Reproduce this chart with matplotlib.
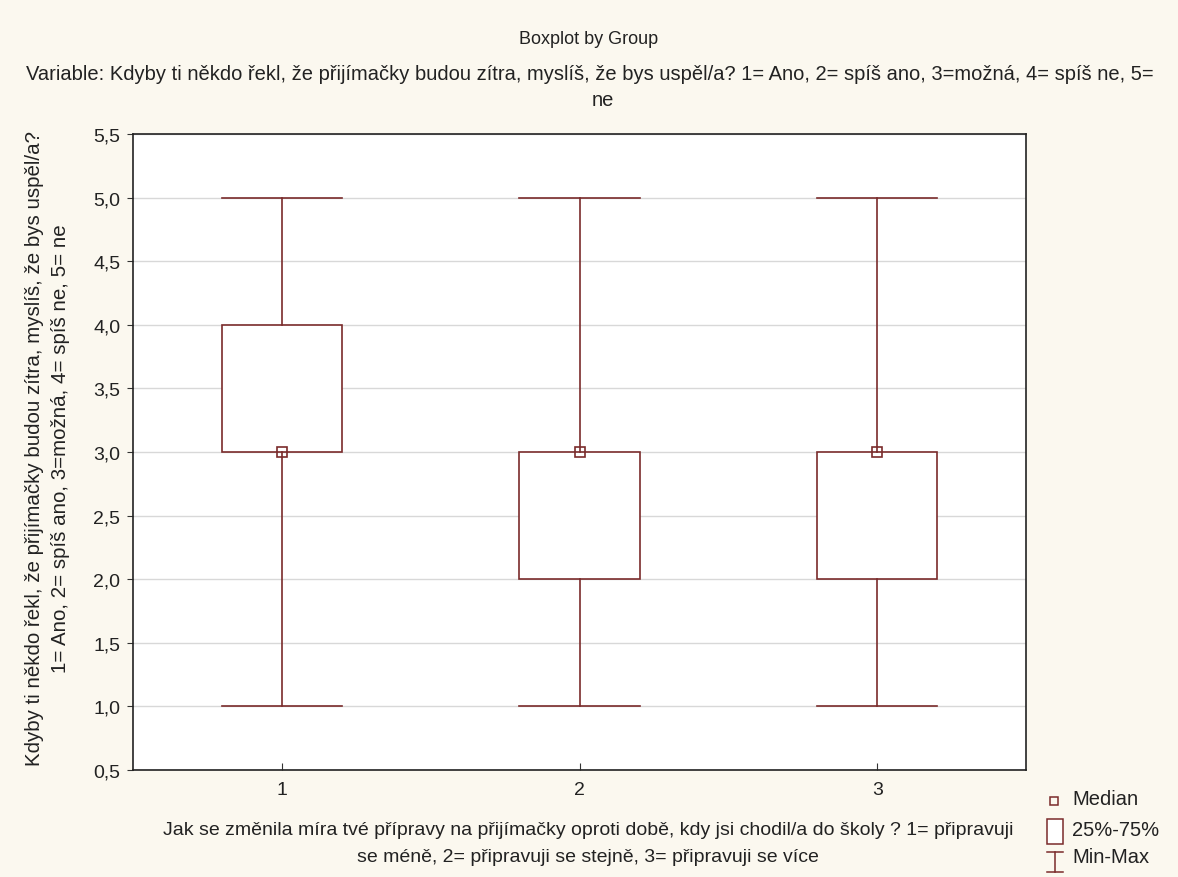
import numpy as np
import matplotlib.pyplot as plt
from matplotlib.lines import Line2D
from matplotlib.patches import Rectangle

plt.rcParams['font.family'] = ['Liberation Sans', 'DejaVu Sans']

# Summary values
groups = ['1', '2', '3']
medians = [3.0, 3.0, 3.0]
q1 = [3.0, 2.0, 2.0]
q3 = [4.0, 3.0, 3.0]
mins = [1.0, 1.0, 1.0]
maxs = [5.0, 5.0, 5.0]
yticks = [0.5, 1.0, 1.5, 2.0, 2.5, 3.0, 3.5, 4.0, 4.5, 5.0, 5.5]

box_color = '#7a2b2b'
bg_color = '#fbf8ef'
txt = '#222222'

fig = plt.figure(figsize=(11.78, 8.78), dpi=100, facecolor=bg_color)
ax = fig.add_axes([133 / 1178, 1 - 771 / 878, 893 / 1178, 636 / 878])
ax.set_facecolor('white')

stats = []
for i in range(len(groups)):
    stats.append({'med': medians[i], 'q1': q1[i], 'q3': q3[i],
                  'whislo': mins[i], 'whishi': maxs[i], 'fliers': []})

pos = np.arange(1, len(groups) + 1)
ax.bxp(stats, positions=pos, widths=0.405, capwidths=0.405, patch_artist=True,
       showfliers=False,
       boxprops=dict(facecolor='white', edgecolor=box_color, linewidth=1.2),
       whiskerprops=dict(color=box_color, linewidth=1.2),
       capprops=dict(color=box_color, linewidth=1.2),
       medianprops=dict(linewidth=0), zorder=3)
ax.plot(pos, medians, linestyle='none', marker='s', markersize=7,
        markerfacecolor='none', markeredgecolor=box_color, markeredgewidth=1.2, zorder=4)

ax.set_xlim(0.5, 3.5)
ax.set_ylim(0.5, 5.5)
ax.set_xticks(pos)
ax.set_xticklabels(groups)
ax.set_yticks(yticks)
ax.set_yticklabels([f'{v:.1f}'.replace('.', ',') for v in yticks])
ax.tick_params(axis='both', labelsize=14, colors='#333333', labelcolor=txt)
ax.tick_params(axis='x', direction='in', length=5, pad=8)
ax.tick_params(axis='y', direction='out', length=4, pad=5)
ax.yaxis.grid(True, color='#d8d8d8', linewidth=1, zorder=0)
ax.set_axisbelow(True)
for s in ax.spines.values():
    s.set_color(txt)
    s.set_linewidth(1.2)

fig.text(589 / 1178, 1 - 40 / 878, 'Boxplot by Group', ha='center', va='center', fontsize=13, color=txt)
fig.text(590 / 1178, 1 - 75 / 878,
         'Variable: Kdyby ti někdo řekl, že přijímačky budou zítra, myslíš, že bys uspěl/a? 1= Ano, 2= spíš ano, 3=možná, 4= spíš ne, 5=',
         ha='center', va='center', fontsize=14.5, color=txt)
fig.text(603 / 1178, 1 - 101 / 878, 'ne', ha='center', va='center', fontsize=14.5, color=txt)

fig.text(35 / 1178, 1 - 449 / 878,
         'Kdyby ti někdo řekl, že přijímačky budou zítra, myslíš, že bys uspěl/a?',
         rotation=90, ha='center', va='center', fontsize=14.8, color=txt)
fig.text(61 / 1178, 1 - 449 / 878,
         '1= Ano, 2= spíš ano, 3=možná, 4= spíš ne, 5= ne',
         rotation=90, ha='center', va='center', fontsize=14.8, color=txt)

fig.text(588 / 1178, 1 - 831 / 878,
         'Jak se změnila míra tvé přípravy na přijímačky oproti době, kdy jsi chodil/a do školy ? 1= připravuji',
         ha='center', va='center', fontsize=14, color=txt)
fig.text(588 / 1178, 1 - 858 / 878,
         'se méně, 2= připravuji se stejně, 3= připravuji se více',
         ha='center', va='center', fontsize=14, color=txt)

# legend drawn by hand (square, box, min-max bar)
W, H = 1178, 878
fig.add_artist(Rectangle((1050 / W, 1 - 806 / H), 8 / W, 8 / H, transform=fig.transFigure,
                         facecolor='none', edgecolor=box_color, linewidth=1.1))
fig.text(1072 / W, 1 - 800 / H, 'Median', ha='left', va='center', fontsize=14.5, color=txt)
fig.add_artist(Rectangle((1047 / W, 1 - 845 / H), 16 / W, 25 / H, transform=fig.transFigure,
                         facecolor='white', edgecolor=box_color, linewidth=1.1))
fig.text(1072 / W, 1 - 831 / H, '25%-75%', ha='left', va='center', fontsize=14.5, color=txt)
fig.add_artist(Line2D([1047 / W, 1063 / W], [1 - 853 / H, 1 - 853 / H], transform=fig.transFigure,
                      color=box_color, linewidth=1.1))
fig.add_artist(Line2D([1055 / W, 1055 / W], [1 - 853 / H, 1 - 873 / H], transform=fig.transFigure,
                      color=box_color, linewidth=1.1))
fig.add_artist(Line2D([1047 / W, 1063 / W], [1 - 873 / H, 1 - 873 / H], transform=fig.transFigure,
                      color=box_color, linewidth=1.1))
fig.text(1072 / W, 1 - 858 / H, 'Min-Max', ha='left', va='center', fontsize=14.5, color=txt)

fig.savefig('out.png', dpi=100, facecolor=bg_color)
